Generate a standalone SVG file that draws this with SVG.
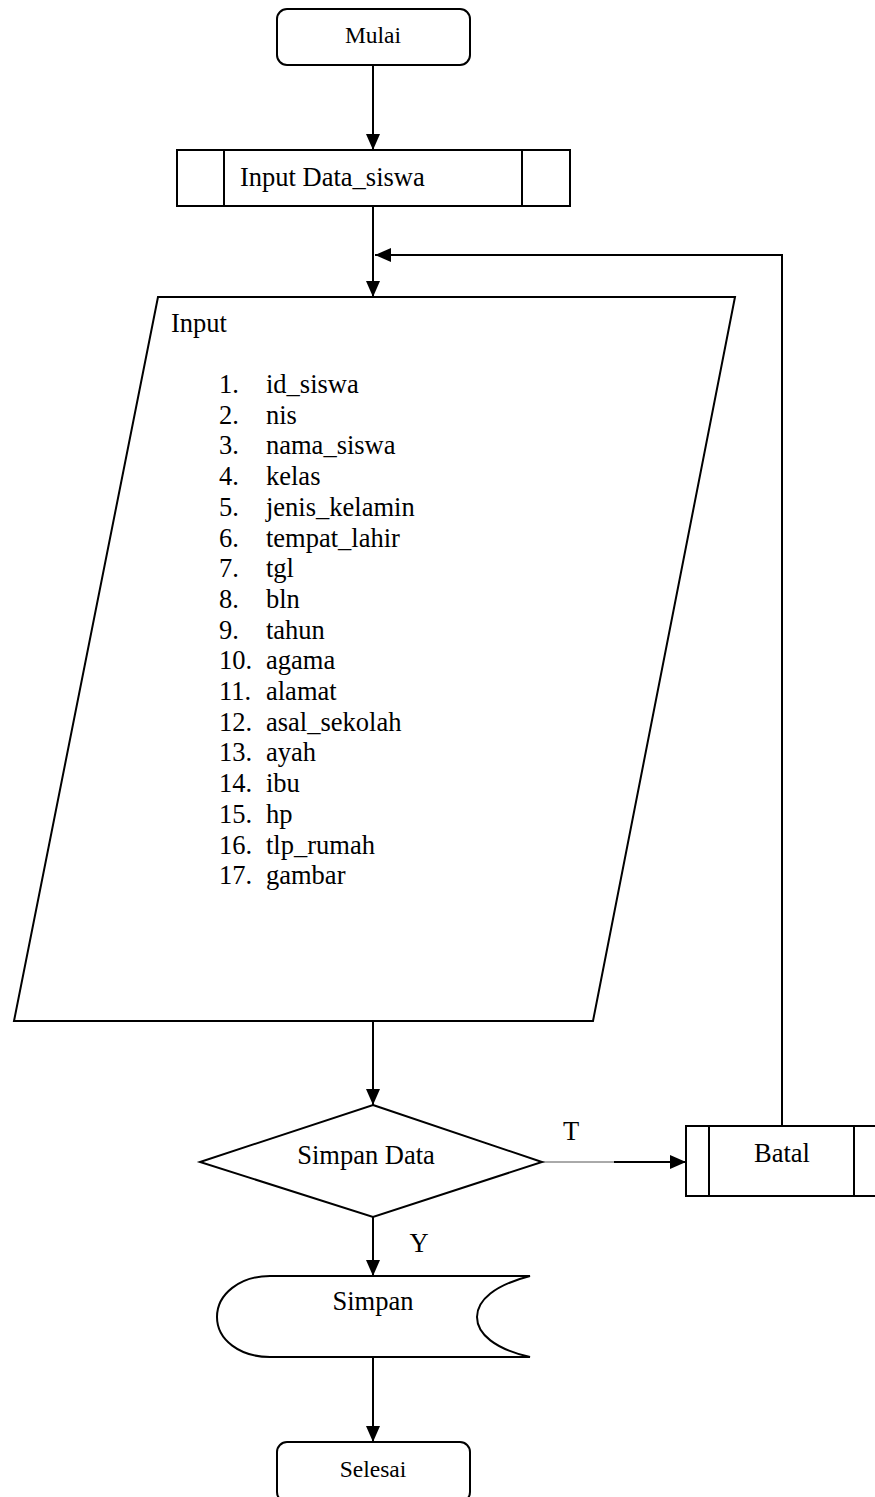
<svg xmlns="http://www.w3.org/2000/svg" width="875" height="1497" viewBox="0 0 875 1497">
<style>
.s{fill:#fff;stroke:#000;stroke-width:2}
.l{fill:none;stroke:#000;stroke-width:2}
.t{font-family:"Liberation Serif","Times New Roman",serif;font-size:26.5px;fill:#000}
.ts{font-family:"Liberation Serif","Times New Roman",serif;font-size:23.5px;fill:#000}
.m{text-anchor:middle}
</style>
<defs>
<marker id="ah" markerUnits="userSpaceOnUse" markerWidth="16" markerHeight="14" refX="16" refY="7" orient="auto">
<path d="M0,0 L16,7 L0,14 Z" fill="#000"/>
</marker>
</defs>
<rect width="875" height="1497" fill="#fff"/>
<g id="connectors">
<line class="l" x1="373" y1="65" x2="373" y2="150" marker-end="url(#ah)"/>
<line class="l" x1="373" y1="206" x2="373" y2="297" marker-end="url(#ah)"/>
<polyline class="l" points="782,1126 782,255 375,255" marker-end="url(#ah)"/>
<line class="l" x1="373" y1="1021" x2="373" y2="1105" marker-end="url(#ah)"/>
<line x1="542" y1="1162" x2="614" y2="1162" stroke="#555" stroke-width="1"/>
<line class="l" x1="614" y1="1162" x2="686" y2="1162" marker-end="url(#ah)"/>
<line class="l" x1="373" y1="1217" x2="373" y2="1276" marker-end="url(#ah)"/>
<line class="l" x1="373" y1="1357" x2="373" y2="1442" marker-end="url(#ah)"/>
<text class="t" x="571" y="1140" text-anchor="middle">T</text>
<text class="t" x="419" y="1252" text-anchor="middle">Y</text>
</g>
<g id="mulai">
<rect class="s" x="277" y="9" width="193" height="56" rx="10"/>
<text class="ts m" x="373" y="43">Mulai</text>
</g>
<g id="input-data-siswa">
<rect class="s" x="177" y="150" width="393" height="56"/>
<line class="l" x1="224" y1="150" x2="224" y2="206"/>
<line class="l" x1="522" y1="150" x2="522" y2="206"/>
<text class="t" x="240" y="186">Input Data_siswa</text>
</g>
<g id="input">
<polygon class="s" points="158,297 735,297 593,1021 14,1021"/>
<text class="t" x="171" y="332">Input</text>
<g class="t">
<text x="219" y="393">1.</text><text x="266" y="393">id_siswa</text>
<text x="219" y="423.7">2.</text><text x="266" y="423.7">nis</text>
<text x="219" y="454.4">3.</text><text x="266" y="454.4">nama_siswa</text>
<text x="219" y="485.1">4.</text><text x="266" y="485.1">kelas</text>
<text x="219" y="515.8">5.</text><text x="266" y="515.8">jenis_kelamin</text>
<text x="219" y="546.5">6.</text><text x="266" y="546.5">tempat_lahir</text>
<text x="219" y="577.2">7.</text><text x="266" y="577.2">tgl</text>
<text x="219" y="607.9">8.</text><text x="266" y="607.9">bln</text>
<text x="219" y="638.6">9.</text><text x="266" y="638.6">tahun</text>
<text x="219" y="669.3">10.</text><text x="266" y="669.3">agama</text>
<text x="219" y="700">11.</text><text x="266" y="700">alamat</text>
<text x="219" y="730.7">12.</text><text x="266" y="730.7">asal_sekolah</text>
<text x="219" y="761.4">13.</text><text x="266" y="761.4">ayah</text>
<text x="219" y="792.1">14.</text><text x="266" y="792.1">ibu</text>
<text x="219" y="822.8">15.</text><text x="266" y="822.8">hp</text>
<text x="219" y="853.5">16.</text><text x="266" y="853.5">tlp_rumah</text>
<text x="219" y="884.2">17.</text><text x="266" y="884.2">gambar</text>
</g>
</g>
<g id="simpan-data">
<polygon class="s" points="373,1105 542,1162 373,1217 200,1162"/>
<text class="t m" x="366" y="1164">Simpan Data</text>
</g>
<g id="batal">
<rect class="s" x="686" y="1126" width="191" height="70"/>
<line class="l" x1="709" y1="1126" x2="709" y2="1196"/>
<line class="l" x1="854" y1="1126" x2="854" y2="1196"/>
<text class="t m" x="782" y="1162">Batal</text>
</g>
<g id="simpan">
<path class="s" d="M270,1276 L530,1276 C495,1285 477,1300 477,1317 C477,1334 495,1349 530,1357 L270,1357 C240,1357 217,1340 217,1317 C217,1294 240,1276 270,1276 Z"/>
<text class="t m" x="373" y="1310">Simpan</text>
</g>
<g id="selesai">
<rect class="s" x="277" y="1442" width="193" height="60" rx="10"/>
<text class="ts m" x="373" y="1477">Selesai</text>
</g>
</svg>
